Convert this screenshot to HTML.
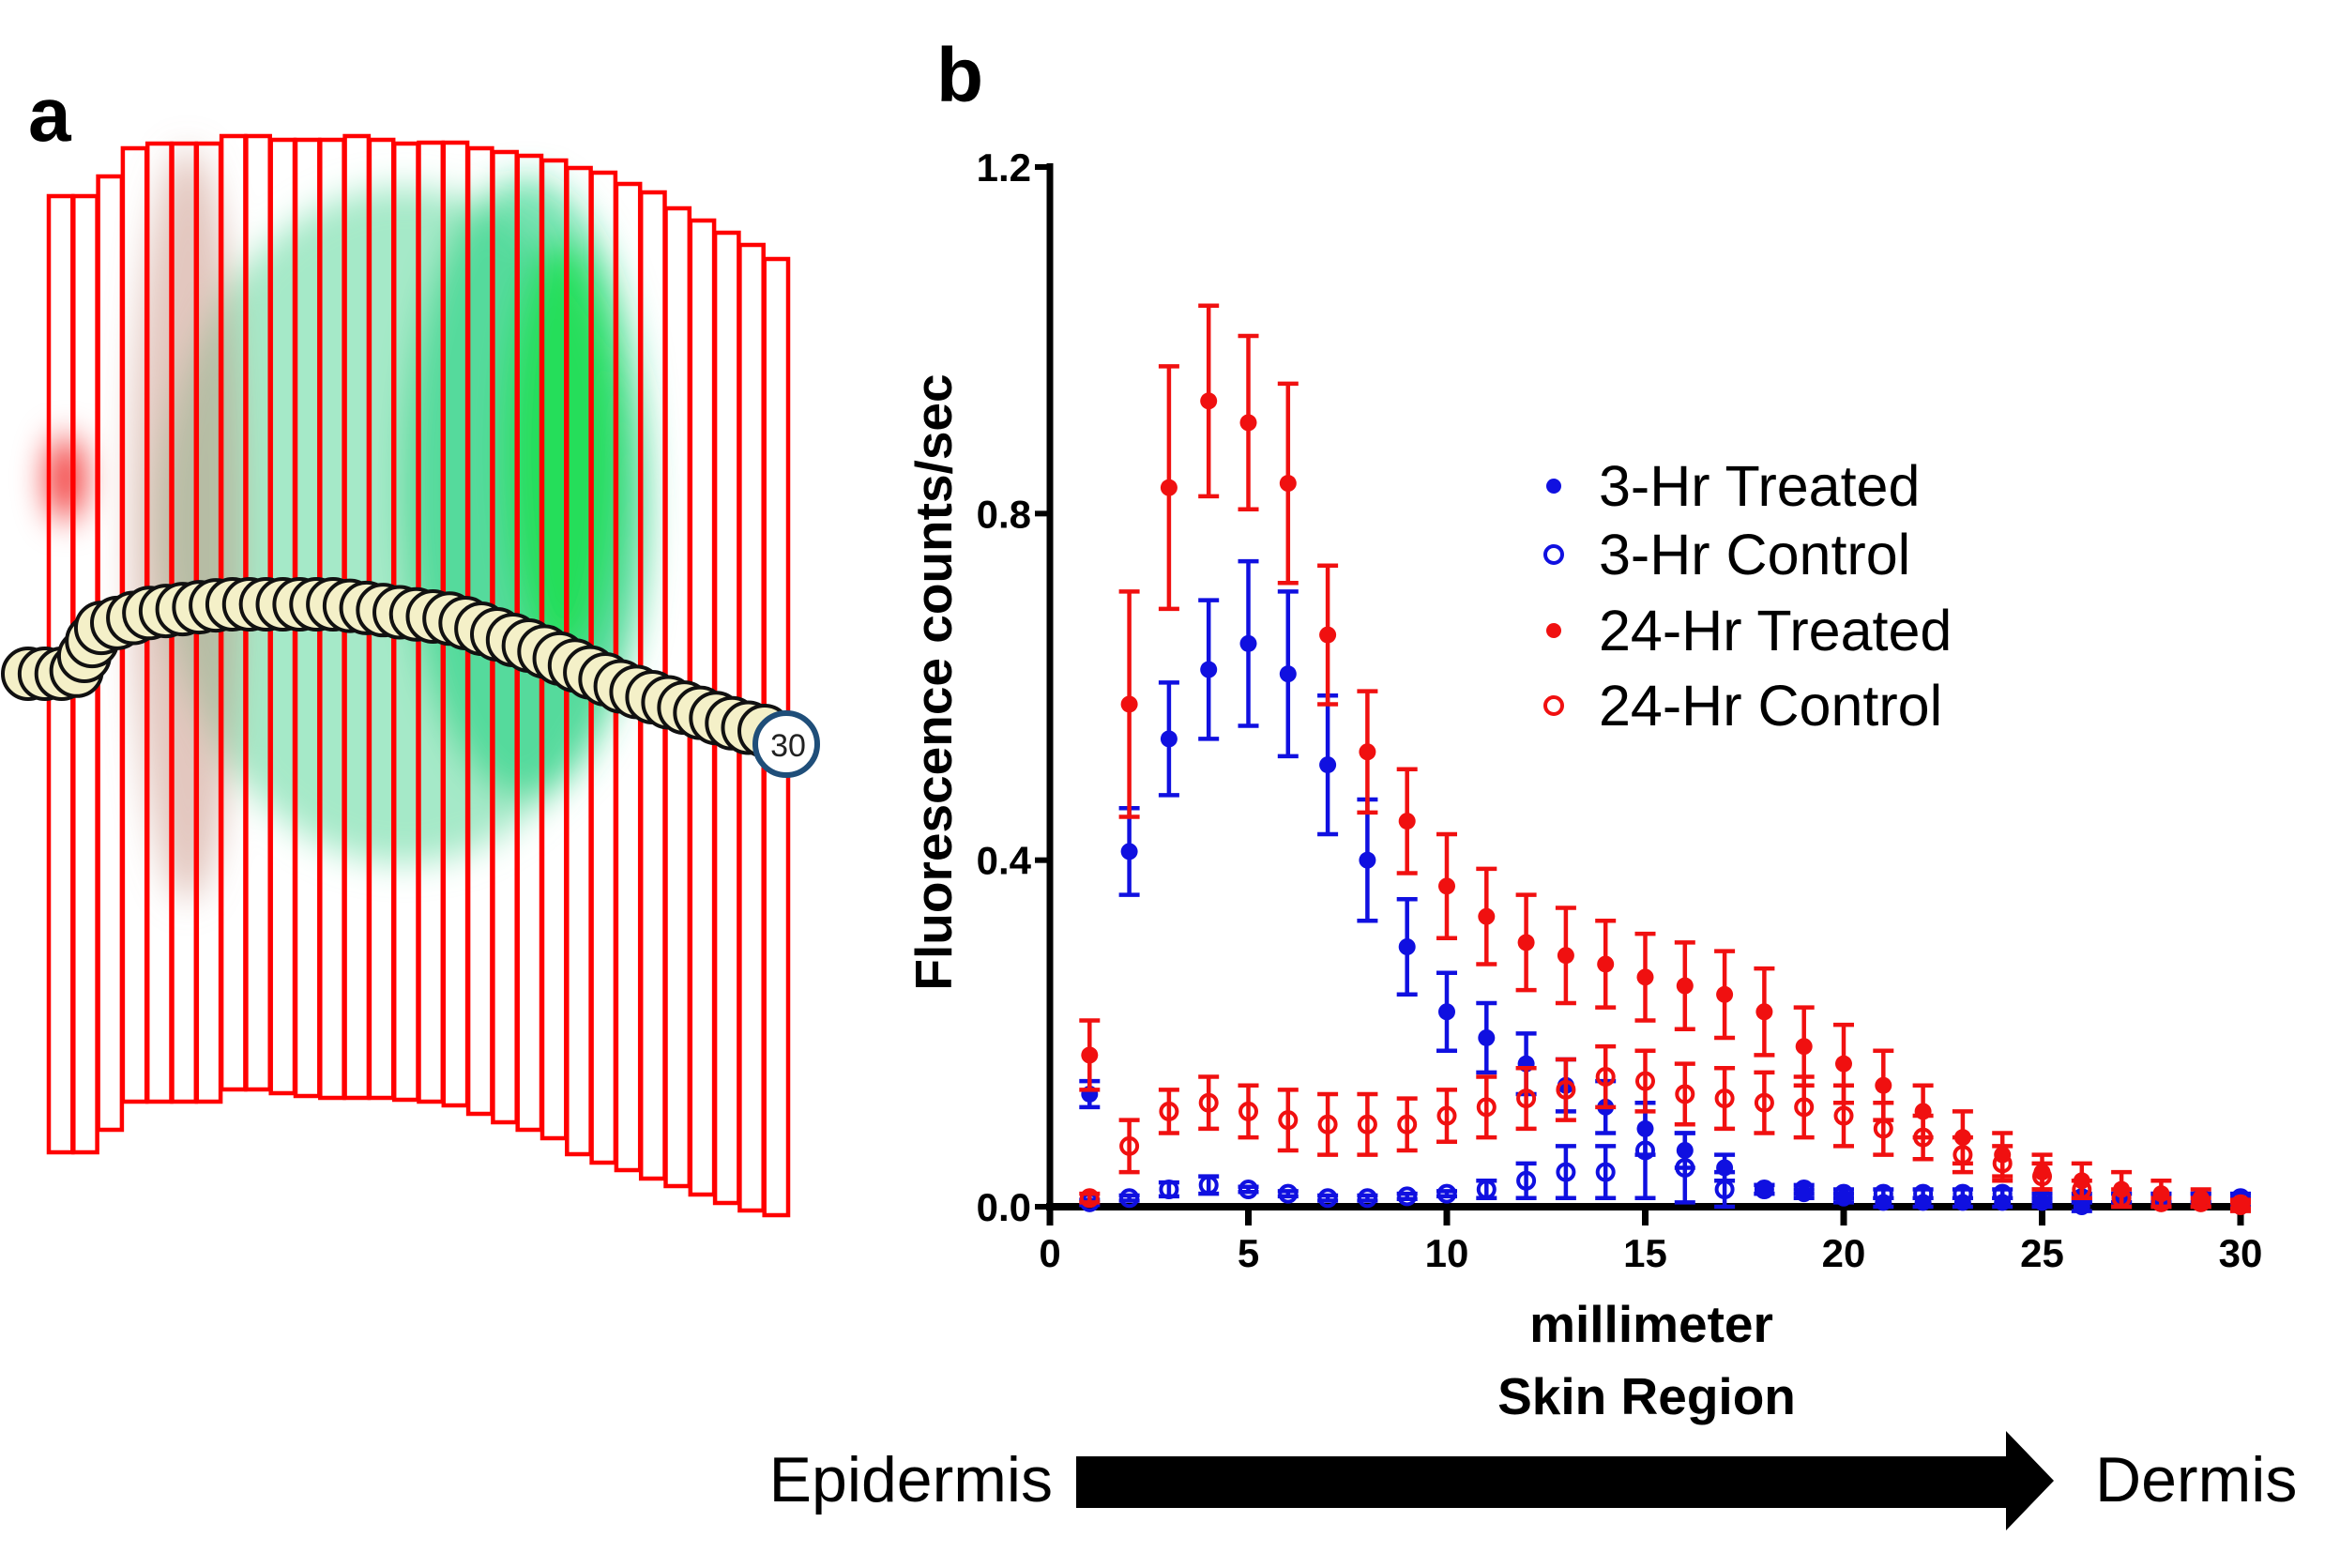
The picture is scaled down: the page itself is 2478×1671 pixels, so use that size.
<!DOCTYPE html>
<html><head><meta charset="utf-8"><style>
html,body{margin:0;padding:0;background:#fff;}
svg{display:block;font-family:"Liberation Sans",Arial,sans-serif;}
</style></head><body>
<svg id="fig" width="2478" height="1671" viewBox="0 0 2478 1671" xmlns="http://www.w3.org/2000/svg">
<defs>
<filter id="blur" x="-20%" y="-20%" width="140%" height="140%"><feGaussianBlur stdDeviation="18"/></filter>
</defs>
<g id="panelA">
<text x="30" y="150" font-size="82" font-weight="bold">a</text>
<g filter="url(#blur)">
<ellipse cx="430" cy="560" rx="260" ry="360" fill="#7fe0b0" opacity="0.7"/>
<ellipse cx="560" cy="520" rx="130" ry="330" fill="#20d080" opacity="0.6"/>
<ellipse cx="600" cy="480" rx="60" ry="220" fill="#10e040" opacity="0.7"/>
<ellipse cx="200" cy="560" rx="60" ry="400" fill="#c89080" opacity="0.5"/>
<ellipse cx="70" cy="510" rx="18" ry="45" fill="#f00000" opacity="0.9"/>
</g>
<g id="bars"></g>
<g id="worm"></g>
<circle cx="838" cy="793" r="33" fill="#fff" stroke="#1f4e79" stroke-width="6"/>
<text x="840" y="806" font-size="34" text-anchor="middle" fill="#222">30</text>
</g>
<g id="panelB">
<text x="998" y="108" font-size="82" font-weight="bold">b</text>
<g id="chart"></g>
<text x="1760" y="1430" font-size="55" font-weight="bold" text-anchor="middle">millimeter</text>
<text x="1755" y="1507" font-size="55" font-weight="bold" text-anchor="middle">Skin Region</text>
<text transform="translate(1014,727) rotate(-90)" font-size="55" font-weight="bold" text-anchor="middle">Fluorescence counts/sec</text>
<g>
<circle cx="1656" cy="518" r="8" fill="#1010e0"/>
<text x="1704" y="539" font-size="61">3-Hr Treated</text>
<circle cx="1656" cy="591" r="9" fill="none" stroke="#1010e0" stroke-width="4"/>
<text x="1704" y="612" font-size="61">3-Hr Control</text>
<circle cx="1656" cy="672" r="8" fill="#f01010"/>
<text x="1704" y="693" font-size="61">24-Hr Treated</text>
<circle cx="1656" cy="752" r="9" fill="none" stroke="#f01010" stroke-width="4"/>
<text x="1704" y="773" font-size="61">24-Hr Control</text>
</g>
<text x="1122" y="1600" font-size="68" text-anchor="end">Epidermis</text>
<polygon points="1147,1552 2138,1552 2138,1525 2189,1578 2138,1631 2138,1607 1147,1607" fill="#000"/>
<text x="2233" y="1600" font-size="68">Dermis</text>
</g>
</svg>
<script>
const NS="http://www.w3.org/2000/svg";
// chart data
const xs=[1,2,3,4,5,6,7,8,9,10,11,12,13,14,15,16,17,18,19,20,21,22,23,24,25,26,27,28,29,30];
const t3=[0.13,0.41,0.54,0.62,0.65,0.615,0.51,0.40,0.30,0.225,0.195,0.165,0.14,0.115,0.09,0.065,0.045,0.02,0.015,0.01,0.005,0.005,0.005,0.005,0.005,0.0,0.01,0.01,0.01,0.005];
const t3e=[0.015,0.05,0.065,0.08,0.095,0.095,0.08,0.07,0.055,0.045,0.04,0.035,0.03,0.03,0.03,0.02,0.015,0.005,0.005,0.005,0.005,0.005,0.005,0.005,0.005,0.005,0.005,0.005,0.005,0.005];
const c3=[0.005,0.01,0.02,0.025,0.02,0.015,0.01,0.01,0.012,0.015,0.02,0.03,0.04,0.04,0.065,0.045,0.02,0.02,0.02,0.015,0.015,0.015,0.015,0.015,0.01,0.01,0.01,0.01,0.01,0.01];
const c3e=[0.003,0.003,0.008,0.01,0.003,0.003,0.003,0.003,0.003,0.003,0.01,0.02,0.03,0.03,0.055,0.04,0.02,0.005,0.005,0.005,0.005,0.005,0.005,0.005,0.005,0.005,0.005,0.005,0.005,0.005];
const t24=[0.175,0.58,0.83,0.93,0.905,0.835,0.66,0.525,0.445,0.37,0.335,0.305,0.29,0.28,0.265,0.255,0.245,0.225,0.185,0.165,0.14,0.11,0.08,0.06,0.04,0.03,0.02,0.015,0.01,0.0];
const t24e=[0.04,0.13,0.14,0.11,0.1,0.115,0.08,0.07,0.06,0.06,0.055,0.055,0.055,0.05,0.05,0.05,0.05,0.05,0.045,0.045,0.04,0.03,0.03,0.025,0.02,0.02,0.02,0.015,0.01,0.005];
const c24=[0.01,0.07,0.11,0.12,0.11,0.1,0.095,0.095,0.095,0.105,0.115,0.125,0.135,0.15,0.145,0.13,0.125,0.12,0.115,0.105,0.09,0.08,0.06,0.05,0.035,0.02,0.01,0.005,0.005,0.003];
const c24e=[0.005,0.03,0.025,0.03,0.03,0.035,0.035,0.035,0.03,0.03,0.035,0.035,0.035,0.035,0.035,0.035,0.035,0.035,0.035,0.035,0.03,0.025,0.02,0.02,0.015,0.01,0.01,0.005,0.005,0.005];
const xTicks=[0,5,10,15,20,25,30];
const yTicks=[0,0.4,0.8,1.2];
const yTickLabels=["0.0","0.4","0.8","1.2"];
// panel a bar data
const barTops=[209,209,188,158,153,153,153,145,145,149,149,149,145,149,153,152,152,158,162,166,171,179,184,196,205,222,235,248,261,276];
const barBottoms=[1228,1228,1204,1174,1174,1174,1174,1161,1161,1165,1168,1170,1170,1170,1172,1174,1178,1187,1196,1204,1213,1230,1239,1247,1256,1264,1273,1282,1290,1295];

const X0=1119,X1=2388,Y0=1286,Y1=178;
const sx=v=>X0+(X1-X0)*v/30;
const sy=v=>Y0-(Y0-Y1)*v/1.2;
const chart=document.getElementById('chart');
function mk(tag,attrs,parent){const e=document.createElementNS(NS,tag);for(const k in attrs)e.setAttribute(k,attrs[k]);parent.appendChild(e);return e;}

// axes
let ax=mk('line',{x1:X0,y1:Y1-4,x2:X0,y2:Y0+4,stroke:'#000','stroke-width':7},chart);


let bx=mk('line',{x1:X0-4,y1:Y0,x2:X1+4,y2:Y0,stroke:'#000','stroke-width':8},chart);


xTicks.forEach(t=>{
  const l=mk('line',{x1:sx(t),y1:Y0,x2:sx(t),y2:Y0+20,stroke:'#000','stroke-width':7},chart);
  
  
  const tx=mk('text',{x:sx(t),y:Y0+64,'font-size':42,'font-weight':'bold','text-anchor':'middle'},chart);
  tx.textContent=t;
  
  
});
yTicks.forEach((t,i)=>{
  const l=mk('line',{x1:X0-16,y1:sy(t),x2:X0,y2:sy(t),stroke:'#000','stroke-width':6},chart);
  
  
  const tx=mk('text',{x:X0-20,y:sy(t)+15,'font-size':42,'font-weight':'bold','text-anchor':'end'},chart);
  tx.textContent=yTickLabels[i];
  
  
});
function series(vals,errs,color,filled,name){
  const g=mk('g',{},chart);
  
  
  xs.forEach((x,i)=>{
    const cx=sx(x),v=vals[i],e=errs[i];
    const eb=mk('path',{d:`M${cx},${sy(v-e)}V${sy(v+e)}M${cx-11},${sy(v+e)}H${cx+11}M${cx-11},${sy(v-e)}H${cx+11}`,stroke:color,'stroke-width':4.5,fill:'none'},g);
    
    
    const p=mk('circle',filled?{cx:cx,cy:sy(v),r:9,fill:color}:{cx:cx,cy:sy(v),r:8.5,fill:'none',stroke:color,'stroke-width':4},g);
    
    
  });
}
series(c3,c3e,'#1010e0',false,'series-3hr-control');
series(t3,t3e,'#1010e0',true,'series-3hr-treated');
series(c24,c24e,'#f01010',false,'series-24hr-control');
series(t24,t24e,'#f01010',true,'series-24hr-treated');

// panel a bars
const bars=document.getElementById('bars');
const bx0=52,pitch=26.3;
barTops.forEach((t,i)=>{
  const r=mk('rect',{x:bx0+i*pitch,y:t,width:pitch-1,height:barBottoms[i]-t,fill:'none',stroke:'#ff0000','stroke-width':4.5},bars);
  
  
});
// worm beads
const worm=document.getElementById('worm');
const pts=[[30,718],[80,718],[105,670],[160,653],[240,644],[360,644],[485,660],[575,692],[665,733],[790,774],[815,779]];
function along(n){const out=[];let segs=[],tot=0;for(let i=1;i<pts.length;i++){const d=Math.hypot(pts[i][0]-pts[i-1][0],pts[i][1]-pts[i-1][1]);segs.push(d);tot+=d;}
 for(let k=0;k<n;k++){let s=tot*k/(n-1),i=0;while(i<segs.length-1&&s>segs[i]){s-=segs[i];i++;}const f=Math.min(1,s/segs[i]);out.push([pts[i][0]+(pts[i+1][0]-pts[i][0])*f,pts[i][1]+(pts[i+1][1]-pts[i][1])*f]);}return out;}
along(48).forEach(p=>{
  const c=mk('circle',{cx:p[0],cy:p[1],r:27,fill:'#f4f0c8',stroke:'#111','stroke-width':4},worm);
  
  
});
</script>
</body></html>
